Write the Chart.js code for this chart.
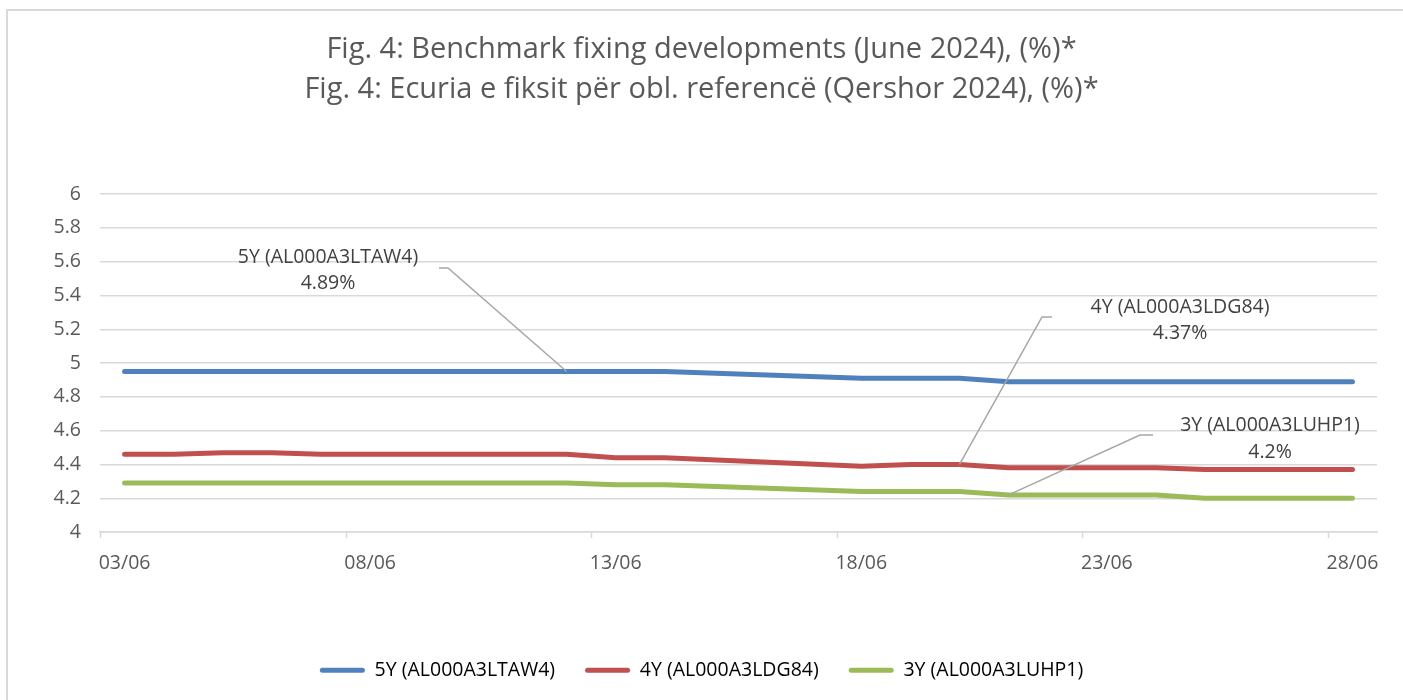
<!DOCTYPE html>
<html>
<head>
<meta charset="utf-8">
<script src="https://cdn.jsdelivr.net/npm/chart.js@4.4.1/dist/chart.umd.min.js"></script>
<style>
  html, body { margin: 0; padding: 0; background: #fff; overflow: hidden; }
  /* light grey frame, only left and top edges are visible in the picture */
  #frame { position: absolute; left: 6px; top: 9px; width: 1420px; height: 720px;
           border: 2px solid #d9d9d9; box-sizing: border-box; }
  #wrap { position: absolute; left: 0; top: 0; width: 1403px; height: 700px; }
</style>
</head>
<body>
<div id="frame"></div>
<div id="wrap"><canvas id="chart"></canvas></div>
<script>
// ---- data (business days of June 2024) ----
const days = [3, 4, 5, 6, 7, 10, 11, 12, 13, 14, 18, 19, 20, 21, 24, 25, 26, 27, 28];
const yields5Y = [4.95, 4.95, 4.95, 4.95, 4.95, 4.95, 4.95, 4.95, 4.95, 4.95, 4.91, 4.91, 4.91, 4.89, 4.89, 4.89, 4.89, 4.89, 4.89];
const yields4Y = [4.46, 4.46, 4.47, 4.47, 4.46, 4.46, 4.46, 4.46, 4.44, 4.44, 4.39, 4.40, 4.40, 4.38, 4.38, 4.37, 4.37, 4.37, 4.37];
const yields3Y = [4.29, 4.29, 4.29, 4.29, 4.29, 4.29, 4.29, 4.29, 4.28, 4.28, 4.24, 4.24, 4.24, 4.22, 4.22, 4.20, 4.20, 4.20, 4.20];
const seriesNames = ["5Y (AL000A3LTAW4)", "4Y (AL000A3LDG84)", "3Y (AL000A3LUHP1)"];
const seriesColors = ["#4f81bd", "#c0504d", "#9bbb59"];
const tickDays = [3, 8, 13, 18, 23, 28];
const yTicks = [4, 4.2, 4.4, 4.6, 4.8, 5, 5.2, 5.4, 5.6, 5.8, 6];
// the day each data callout points to (5Y, 4Y, 3Y)
const calloutDays = [12, 20, 21];

const FONT = "'Open Sans', sans-serif";
const SMALL = 19.5;
const GREY_TEXT = "#595959";
const GRID = "#d9d9d9";

function toPoints(values) {
  return days.map((d, i) => ({ x: d, y: values[i] }));
}

// callout labels with leader lines, like Excel data labels
const calloutPlugin = {
  id: "callouts",
  afterDatasetsDraw(chart) {
    const { ctx, scales: { x, y } } = chart;
    // label positions (pixels) and where the leader line leaves the label
    const boxes = [
      { cx: 328, cy1: 257, cy2: 283, lx1: 439, lx2: 448, ly: 268 },
      { cx: 1180, cy1: 307, cy2: 333, lx1: 1052, lx2: 1042, ly: 317 },
      { cx: 1270, cy1: 425, cy2: 452, lx1: 1153, lx2: 1140, ly: 435 }
    ];
    ctx.save();
    calloutDays.forEach((day, i) => {
      const ds = chart.data.datasets[i].data;
      const pt = ds.find(p => p.x === day);
      const last = ds[ds.length - 1].y;
      const px = x.getPixelForValue(day);
      const py = y.getPixelForValue(pt.y);
      const b = boxes[i];

      ctx.strokeStyle = "#a6a6a6";
      ctx.lineWidth = 1.5;
      ctx.beginPath();
      ctx.moveTo(b.lx1, b.ly);
      ctx.lineTo(b.lx2, b.ly);
      ctx.lineTo(px, py);
      ctx.stroke();

      ctx.fillStyle = "#404040";
      ctx.font = SMALL + "px " + FONT;
      ctx.textAlign = "center";
      ctx.textBaseline = "middle";
      ctx.fillText(seriesNames[i], b.cx, b.cy1);
      ctx.fillText(last + "%", b.cx, b.cy2);
    });
    ctx.restore();
  }
};

// small tick marks on the x axis, sitting between the day labels
const xTickMarks = {
  id: "xTickMarks",
  afterDraw(chart) {
    const { ctx, chartArea, scales: { x } } = chart;
    ctx.save();
    ctx.strokeStyle = GRID;
    ctx.lineWidth = 1.5;
    tickDays.forEach(d => {
      const px = Math.round(x.getPixelForValue(d - 0.5)) + 0.5;
      ctx.beginPath();
      ctx.moveTo(px, chartArea.bottom);
      ctx.lineTo(px, chartArea.bottom + 6);
      ctx.stroke();
    });
    ctx.restore();
  }
};

const ctx = document.getElementById("chart").getContext("2d");

new Chart(ctx, {
  type: "line",
  data: {
    datasets: [yields5Y, yields4Y, yields3Y].map((vals, i) => ({
      label: seriesNames[i],
      data: toPoints(vals),
      borderColor: seriesColors[i],
      backgroundColor: seriesColors[i],
      borderWidth: 5,
      borderCapStyle: "round",
      borderJoinStyle: "round",
      pointRadius: 0,
      tension: 0,
      fill: false
    }))
  },
  options: {
    responsive: true,
    maintainAspectRatio: false,
    animation: false,
    layout: { padding: { left: 26, right: 26, top: 0, bottom: 10 } },
    scales: {
      x: {
        type: "linear",
        min: 2.5,
        max: 28.5,
        afterBuildTicks: scale => { scale.ticks = tickDays.map(v => ({ value: v })); },
        afterFit: scale => { scale.height += 35; },
        grid: { display: false, drawTicks: false },
        border: { display: true, color: GRID, width: 1.5 },
        ticks: {
          autoSkip: false,
          maxRotation: 0,
          padding: 20,
          color: GREY_TEXT,
          font: { family: FONT, size: SMALL },
          callback: v => String(v).padStart(2, "0") + "/06"
        }
      },
      y: {
        min: 4,
        max: 6,
        afterBuildTicks: scale => { scale.ticks = yTicks.map(v => ({ value: v })); },
        afterFit: scale => { scale.width = 74; },
        grid: { color: GRID, lineWidth: 1.5, drawTicks: false },
        border: { display: false },
        ticks: {
          padding: 19,
          color: GREY_TEXT,
          font: { family: FONT, size: SMALL },
          callback: v => String(v)
        }
      }
    },
    plugins: {
      title: {
        display: true,
        text: [
          "Fig. 4: Benchmark fixing developments (June 2024), (%)*",
          "Fig. 4: Ecuria e fiksit për obl. referencë (Qershor 2024), (%)*"
        ],
        color: GREY_TEXT,
        font: { family: FONT, size: 29, weight: "normal", lineHeight: 1.38 },
        padding: { top: 30, bottom: 84 }
      },
      legend: {
        position: "bottom",
        labels: {
          boxWidth: 45,
          boxHeight: 5,
          padding: 30,
          color: GREY_TEXT,
          font: { family: FONT, size: SMALL },
          useBorderRadius: true,
          borderRadius: 2.5,
          generateLabels: chart => chart.data.datasets.map((d, i) => ({
            text: d.label,
            fillStyle: d.borderColor,
            strokeStyle: d.borderColor,
            lineWidth: 0,
            borderRadius: 2.5,
            hidden: false,
            datasetIndex: i
          }))
        }
      },
      tooltip: { enabled: false }
    }
  },
  plugins: [calloutPlugin, xTickMarks]
});
</script>
</body>
</html>
